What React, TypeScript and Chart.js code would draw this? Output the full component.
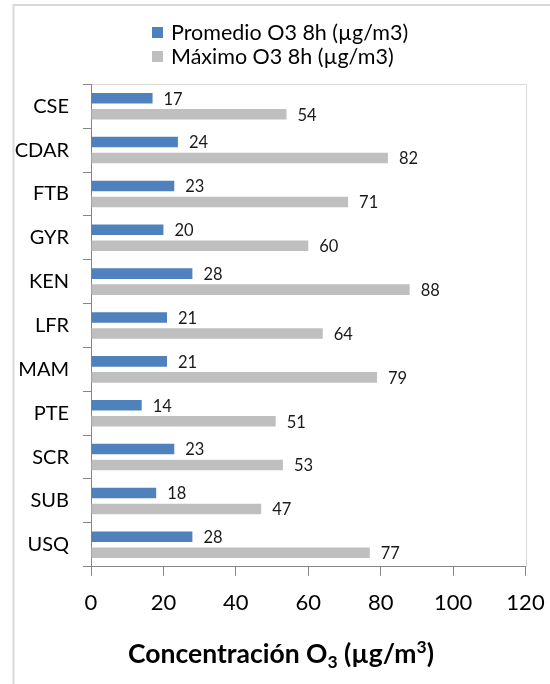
import React, { useEffect, useRef } from "react";
import { Chart, registerables } from "chart.js";
Chart.register(...registerables);

const categories = ["CSE", "CDAR", "FTB", "GYR", "KEN", "LFR", "MAM", "PTE", "SCR", "SUB", "USQ"];
const promedio = [17, 24, 23, 20, 28, 21, 21, 14, 23, 18, 28];
const maximo = [54, 82, 71, 60, 88, 64, 79, 51, 53, 47, 77];
const seriesNames = ["Promedio O3 8h (µg/m3)", "Máximo O3 8h (µg/m3)"];
const seriesColors = ["#4F81BD", "#BFBFBF"];
const xMin = 0;
const xMax = 120;
const xStep = 20;
const titleParts = [
  { t: "Concentración O", k: "n" },
  { t: "3", k: "sub" },
  { t: " (µg/m", k: "n" },
  { t: "3", k: "sup" },
  { t: ")", k: "n" },
];

const FONT = "Lato, 'Open Sans', sans-serif";
const AXIS = "#868686";
const LIGHT = "#D9D9D9";

const framePlugin = {
  id: "frame",
  beforeDraw(chart: any) {
    const ctx = chart.ctx;
    ctx.save();
    ctx.fillStyle = "#fff";
    ctx.fillRect(0, 0, chart.width, chart.height);
    ctx.strokeStyle = LIGHT;
    ctx.lineWidth = 2;
    ctx.beginPath();
    ctx.moveTo(13.5, chart.height + 2);
    ctx.lineTo(13.5, 5);
    ctx.lineTo(chart.width + 2, 5);
    ctx.stroke();
    const a = chart.chartArea;
    ctx.lineWidth = 1;
    ctx.beginPath();
    ctx.moveTo(a.left, Math.round(a.top) + 0.5);
    ctx.lineTo(Math.round(a.right) + 0.5, Math.round(a.top) + 0.5);
    ctx.lineTo(Math.round(a.right) + 0.5, a.bottom);
    ctx.stroke();
    ctx.restore();
  },
};

const valueLabelPlugin = {
  id: "valueLabels",
  afterDatasetsDraw(chart: any) {
    const ctx = chart.ctx;
    ctx.save();
    ctx.font = `16.5px ${FONT}`;
    ctx.fillStyle = "#1a1a1a";
    ctx.textAlign = "left";
    ctx.textBaseline = "middle";
    chart.data.datasets.forEach((ds: any, i: number) => {
      const meta = chart.getDatasetMeta(i);
      meta.data.forEach((bar: any, j: number) => {
        ctx.fillText(String(ds.data[j]), bar.x + 11, bar.y + 1);
      });
    });
    ctx.restore();
  },
};

const legendPlugin = {
  id: "customLegend",
  afterDraw(chart: any) {
    const ctx = chart.ctx;
    ctx.save();
    ctx.font = `21.5px ${FONT}`;
    ctx.textAlign = "left";
    ctx.textBaseline = "middle";
    chart.data.datasets.forEach((ds: any, i: number) => {
      const cy = 32.5 + i * 24;
      ctx.fillStyle = ds.backgroundColor;
      ctx.fillRect(152, cy - 5.5, 11, 11);
      ctx.fillStyle = "#000";
      ctx.fillText(ds.label, 171, cy + 1);
    });
    ctx.restore();
  },
};

const axisTitlePlugin = {
  id: "axisTitle",
  afterDraw(chart: any) {
    const ctx = chart.ctx;
    ctx.save();
    const big = `bold 26.5px ${FONT}`;
    const small = `bold 17.5px ${FONT}`;
    let total = 0;
    titleParts.forEach((p) => {
      ctx.font = p.k === "n" ? big : small;
      total += ctx.measureText(p.t).width;
    });
    let x = 281 - total / 2;
    const base = 663;
    ctx.fillStyle = "#000";
    ctx.textAlign = "left";
    ctx.textBaseline = "alphabetic";
    titleParts.forEach((p) => {
      ctx.font = p.k === "n" ? big : small;
      const dy = p.k === "sub" ? 5 : p.k === "sup" ? -10 : 0;
      ctx.fillText(p.t, x, base + dy);
      x += ctx.measureText(p.t).width;
    });
    ctx.restore();
  },
};

export default function App() {
  const ref = useRef<HTMLCanvasElement | null>(null);
  useEffect(() => {
    if (!ref.current) return;
    const chart = new Chart(ref.current, {
      type: "bar",
      data: {
        labels: categories,
        datasets: [
          {
            label: seriesNames[0],
            data: promedio,
            backgroundColor: seriesColors[0],
            categoryPercentage: 0.73,
            barPercentage: 0.66,
          },
          {
            label: seriesNames[1],
            data: maximo,
            backgroundColor: seriesColors[1],
            categoryPercentage: 0.73,
            barPercentage: 0.66,
          },
        ],
      },
      options: {
        indexAxis: "y",
        animation: false,
        responsive: false,
        devicePixelRatio: 1,
        layout: { padding: { top: 84.3, left: 0, right: 24.5, bottom: 0 } },
        plugins: {
          legend: { display: false },
          title: { display: false },
          tooltip: { enabled: false },
        },
        scales: {
          x: {
            min: xMin,
            max: xMax,
            ticks: {
              stepSize: xStep,
              font: { family: FONT, size: 22 },
              color: "#000",
              padding: 14,
            },
            grid: {
              display: true,
              drawOnChartArea: false,
              drawTicks: true,
              tickLength: 9,
              color: AXIS,
            },
            border: { display: true, color: AXIS, width: 1 },
            afterFit: (s: any) => {
              s.height = 117.3;
              s.paddingLeft = 0;
              s.paddingRight = 0;
            },
          },
          y: {
            ticks: {
              font: { family: FONT, size: 20 },
              color: "#000",
              padding: 14,
            },
            grid: {
              display: true,
              drawOnChartArea: false,
              drawTicks: true,
              tickLength: 8,
              offset: true,
              color: AXIS,
            },
            border: { display: true, color: AXIS, width: 1 },
            afterFit: (s: any) => {
              s.width = 91;
              s.paddingTop = 0;
              s.paddingBottom = 0;
            },
          },
        },
      },
      plugins: [framePlugin, valueLabelPlugin, legendPlugin, axisTitlePlugin],
    } as any);
    return () => chart.destroy();
  }, []);
  return (
    <div style={{ position: "absolute", left: 0, top: 0, width: 550, height: 684, background: "#fff" }}>
      <canvas ref={ref} width={550} height={684} style={{ display: "block", width: 550, height: 684 }} />
    </div>
  );
}
